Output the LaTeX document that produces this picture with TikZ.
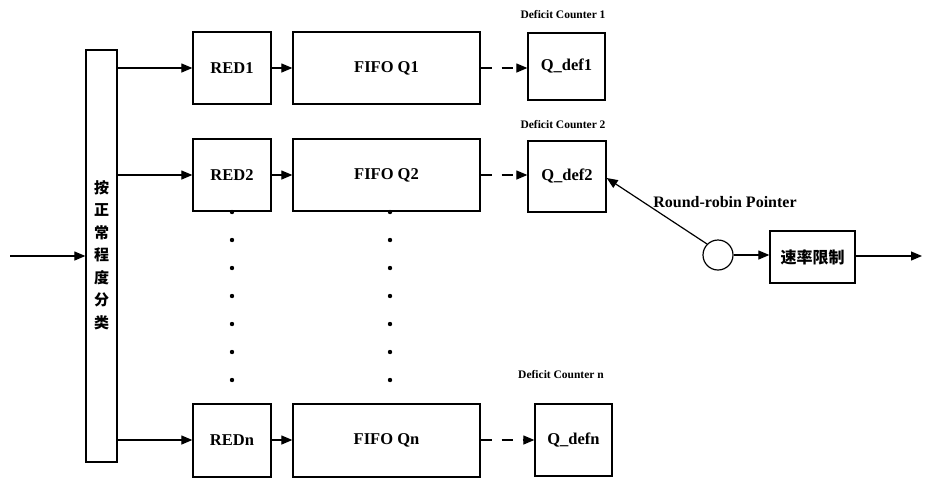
\documentclass[tikz,border=0pt]{standalone}
\usepackage{fontspec}
\setmainfont{Liberation Serif}
\newfontfamily\cjk{Noto Sans CJK SC}
\usetikzlibrary{arrows.meta}
\begin{document}
\begin{tikzpicture}[x=1pt,y=-1pt,
  box/.style={draw,line width=1.3pt,inner sep=0pt,font=\bfseries\fontsize{16.5}{18}\selectfont},
  arr/.style={line width=1.2pt,-{Triangle[length=11pt,width=9pt]}},
  darr/.style={line width=1.2pt,dash pattern=on 11pt off 10pt,-{Triangle[length=11pt,width=9pt]}},
  lbl/.style={font=\bfseries\fontsize{11.5}{13}\selectfont},
  dot/.style={circle,fill,inner sep=0pt,minimum size=4.4pt}]
\useasboundingbox (0,0) rectangle (926,480);
% classifier
\node[box,minimum width=31pt,minimum height=412pt] (cls) at (101.5,256) {};
\node[font=\cjk\bfseries\fontsize{15}{22.5}\selectfont,align=center] (clst) at (101.5,255) {按\\正\\常\\程\\度\\分\\类};
% RED boxes
\node[box,minimum width=78pt,minimum height=72pt] (r1) at (232,68) {RED1};
\node[box,minimum width=78pt,minimum height=72pt] (r2) at (232,175) {RED2};
\node[box,minimum width=78pt,minimum height=73pt] (rn) at (232,440.5) {REDn};
% FIFO boxes
\node[box,minimum width=187pt,minimum height=72pt] (f1) at (386.5,68) {FIFO Q1};
\node[box,minimum width=187pt,minimum height=72pt] (f2) at (386.5,175) {FIFO Q2};
\node[box,minimum width=187pt,minimum height=73pt] (fn) at (386.5,440.5) {FIFO Qn};
% Q_def boxes
\node[box,minimum width=77pt,minimum height=67pt] (q1) at (566.5,66.5) {Q\_def1};
\node[box,minimum width=78pt,minimum height=71pt] (q2) at (567,176.5) {Q\_def2};
\node[box,minimum width=77pt,minimum height=72pt] (qn) at (573.5,440) {Q\_defn};
% labels
\node[lbl] (l1) at (563,15) {Deficit Counter 1};
\node[lbl] (l2) at (563,125) {Deficit Counter 2};
\node[lbl] (ln) at (561,375) {Deficit Counter n};
\node[font=\bfseries\fontsize{16}{18}\selectfont] (rr) at (725,202) {Round-robin Pointer};
% circle and rate limiter
\node[draw,circle,line width=1.2pt,minimum size=30pt,inner sep=0pt] (c) at (718,255) {};
\node[box,minimum width=85pt,minimum height=52pt,font=\cjk\bfseries\fontsize{16}{18}\selectfont] (rate) at (812.5,257) {速率限制};
\coordinate (in) at (10,256);
\coordinate (out) at (922,256);
% connectors
\draw[arr] (in) -- (cls.west |- in);
\draw[arr] (cls.east |- r1.west) -- (r1.west);
\draw[arr] (cls.east |- r2.west) -- (r2.west);
\draw[arr] (cls.east |- 0,440) -- (rn.west |- 0,440);
\draw[arr] (r1.east) -- (f1.west);
\draw[arr] (r2.east) -- (f2.west);
\draw[arr] (rn.east |- 0,440) -- (fn.west |- 0,440);
\draw[darr] (f1.east) -- (q1.west |- f1.east);
\draw[darr] (f2.east) -- (q2.west |- f2.east);
\draw[darr] (fn.east |- 0,440) -- (qn.west |- 0,440);
\draw[arr] (c.135) -- (q2.east |- 0,178);
\draw[arr] (c.east) -- (rate.west |- c.east);
\draw[arr] (rate.east |- out) -- (out);
% dots
\foreach \y [count=\i] in {212,240,268,296,324,352,380} {
  \node[dot] (da\i) at (232,\y) {};
  \node[dot] (db\i) at (390,\y) {};
}
\end{tikzpicture}
\end{document}
